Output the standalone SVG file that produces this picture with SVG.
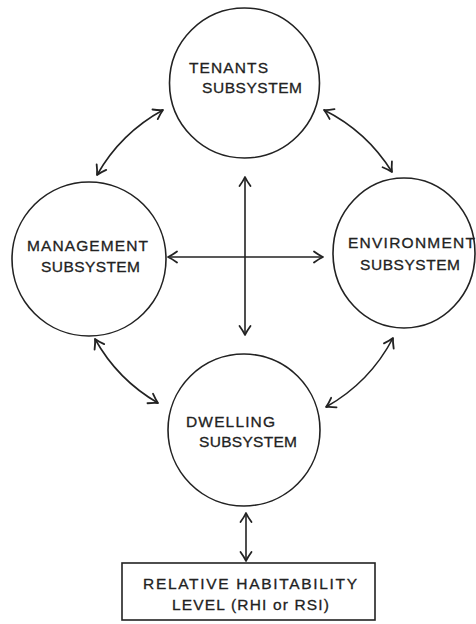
<svg xmlns="http://www.w3.org/2000/svg" width="476" height="624" viewBox="0 0 476 624">
<defs>
<style>
.node{fill:none;stroke:#222;stroke-width:1.6}
.lbl{font-family:"Liberation Sans",Arial,sans-serif;font-size:15.5px;fill:#222;stroke:#222;stroke-width:0.3}
.con{fill:none;stroke:#222;stroke-width:1.6;marker-start:url(#ah);marker-end:url(#ah)}
</style>
<marker id="ah" viewBox="-11 -7 13 14" markerUnits="userSpaceOnUse" markerWidth="13" markerHeight="14" refX="0" refY="0" orient="auto-start-reverse">
<path d="M-9,-5.5 Q-3.5,-1.5 0,0 Q-3.5,1.5 -9,5.5" fill="none" stroke="#222" stroke-width="1.8" stroke-linecap="round" stroke-linejoin="round"/>
</marker>
</defs>
<rect width="476" height="624" fill="#fff"/>
<g id="tenants">
<circle class="node" cx="244.5" cy="83" r="75"/>
<text class="lbl" x="189" y="73" textLength="79" lengthAdjust="spacing">TENANTS</text>
<text class="lbl" x="202" y="93" textLength="100" lengthAdjust="spacing">SUBSYSTEM</text>
</g>
<g id="management">
<circle class="node" cx="89" cy="259" r="77"/>
<text class="lbl" x="27" y="251" textLength="121" lengthAdjust="spacing">MANAGEMENT</text>
<text class="lbl" x="41" y="272" textLength="99" lengthAdjust="spacing">SUBSYSTEM</text>
</g>
<g id="environment">
<ellipse class="node" cx="404" cy="253" rx="71" ry="75"/>
<text class="lbl" x="348" y="248" textLength="127" lengthAdjust="spacing">ENVIRONMENT</text>
<text class="lbl" x="360" y="270" textLength="100" lengthAdjust="spacing">SUBSYSTEM</text>
</g>
<g id="dwelling">
<circle class="node" cx="244" cy="430" r="76"/>
<text class="lbl" x="186" y="427" textLength="89" lengthAdjust="spacing">DWELLING</text>
<text class="lbl" x="199" y="447" textLength="98" lengthAdjust="spacing">SUBSYSTEM</text>
</g>
<g id="rhi">
<rect class="node" x="122" y="563" width="253" height="57"/>
<text class="lbl" x="143" y="589" textLength="214" lengthAdjust="spacing">RELATIVE HABITABILITY</text>
<text class="lbl" x="172" y="610" textLength="157" lengthAdjust="spacing">LEVEL (RHI or RSI)</text>
</g>
<g id="connectors">
<path class="con" d="M245,177 L245,335"/>
<path class="con" d="M168,257 L323,257"/>
<path class="con" d="M97,175 A169,169 0 0 1 163,110"/>
<path class="con" d="M324,110 A169,169 0 0 1 392,172"/>
<path class="con" d="M393,338 A169,169 0 0 1 326,407"/>
<path class="con" d="M158,403 A169,169 0 0 1 95,339"/>
<path class="con" d="M246,513 L246,561"/>
</g>
</svg>
